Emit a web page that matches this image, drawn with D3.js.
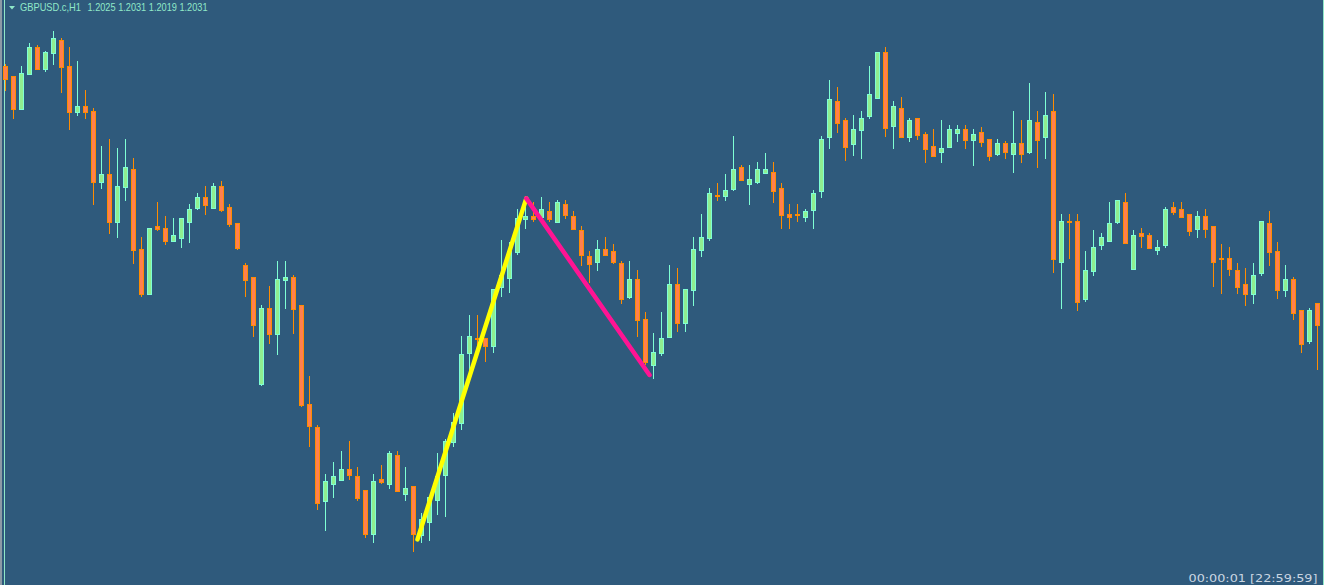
<!DOCTYPE html>
<html><head><meta charset="utf-8">
<script src="https://cdn.jsdelivr.net/npm/d3@7"></script>
<style>html,body{margin:0;padding:0;background:#2F5A7C;overflow:hidden}svg{display:block}</style>
</head><body>
<svg id="chart" width="1324" height="585"></svg>
<script>
const opens=[1.2167,1.2162,1.21455,1.2163,1.21765,1.21655,1.21735,1.2180,1.2167,1.2144,1.2147,1.21445,1.2109,1.2113,1.2089,1.21065,1.21155,1.20755,1.2053,1.2087,1.2086,1.20795,1.2081,1.2089,1.2096,1.21015,1.2096,1.2107,1.20965,1.20885,1.20675,1.20615,1.2008,1.2046,1.2033,1.2060,1.20615,1.20475,1.1998,1.19865,1.19495,1.1958,1.1960,1.19655,1.1962,1.1955,1.1933,1.19605,1.1958,1.19725,1.1953,1.1957,1.19325,1.1939,1.1950,1.19625,1.1979,1.19885,1.20235,1.2031,1.2031,1.2027,1.20565,1.2061,1.2074,1.20905,1.2092,1.20915,1.20945,1.2089,1.2098,1.2092,1.2085,1.2072,1.2069,1.20755,1.20745,1.20685,1.20515,1.20605,1.20405,1.20175,1.20235,1.20315,1.2058,1.20385,1.2055,1.2075,1.2081,1.21025,1.2102,1.21055,1.21165,1.2108,1.2109,1.21135,1.2114,1.2106,1.2093,1.2093,1.20915,1.2095,1.21045,1.21315,1.21495,1.2140,1.2128,1.2135,1.2142,1.2151,1.2174,1.2137,1.2146,1.21315,1.2141,1.2133,1.2127,1.2124,1.21265,1.21335,1.21355,1.2130,1.2134,1.21305,1.2123,1.21285,1.2123,1.21285,1.2124,1.2139,1.21315,1.21445,1.2069,1.20895,1.20895,1.20505,1.20645,1.20775,1.20795,1.2089,1.2099,1.20655,1.20835,1.20825,1.2075,1.20775,1.20965,1.20955,1.2093,1.20855,1.2092,1.2087,1.2071,1.2071,1.2065,1.2058,1.2053,1.20635,1.20885,1.20745,1.2055,1.20605,1.2045,1.20295,1.20485];
const highs=[1.2168,1.2162,1.2167,1.21785,1.21775,1.21745,1.21845,1.2181,1.21765,1.21695,1.2155,1.2146,1.2127,1.21305,1.2126,1.21305,1.2121,1.20815,1.2086,1.2099,1.2092,1.2091,1.2091,1.2098,1.21035,1.2107,1.21085,1.21095,1.2098,1.20885,1.20685,1.20615,1.20475,1.2057,1.20695,1.20695,1.20625,1.20475,1.2012,1.19875,1.1963,1.1969,1.19745,1.19795,1.19665,1.1955,1.1963,1.19675,1.19745,1.19745,1.19665,1.1957,1.19435,1.19515,1.19735,1.19805,1.19935,1.2032,1.20425,1.20425,1.2031,1.20555,1.2080,1.2079,1.20955,1.2100,1.2099,1.21015,1.2099,1.2100,1.2100,1.20945,1.2087,1.20745,1.2080,1.20815,1.2078,1.20695,1.20695,1.2065,1.2044,1.20335,1.2044,1.20675,1.2066,1.20555,1.20815,1.2093,1.2106,1.21085,1.2113,1.2132,1.21175,1.21175,1.2119,1.21235,1.2119,1.21085,1.2098,1.2098,1.20955,1.2105,1.2132,1.2160,1.21565,1.2141,1.21425,1.21445,1.2167,1.2174,1.21765,1.21495,1.21515,1.2141,1.2141,1.2134,1.21355,1.2140,1.21375,1.21375,1.21375,1.21355,1.21365,1.21305,1.21305,1.21295,1.21445,1.2140,1.21585,1.21445,1.2154,1.2153,1.2093,1.2093,1.2093,1.20745,1.2085,1.20835,1.2099,1.2100,1.21035,1.2085,1.2086,1.20835,1.2080,1.20965,1.2099,1.2099,1.2093,1.20945,1.20955,1.2087,1.2078,1.20765,1.20685,1.2066,1.20685,1.20895,1.20945,1.2079,1.20675,1.20615,1.2045,1.2046,1.20485];
const lows=[1.21545,1.21405,1.21455,1.2163,1.21655,1.2164,1.21675,1.21535,1.2135,1.2142,1.21405,1.20975,1.21055,1.2083,1.2081,1.20995,1.2068,1.20515,1.2053,1.20845,1.20775,1.20795,1.2076,1.20785,1.2095,1.20925,1.2096,1.2094,1.20865,1.2075,1.20515,1.20315,1.2007,1.2028,1.20225,1.20455,1.2033,1.19965,1.19765,1.1945,1.19345,1.1951,1.1960,1.1960,1.19495,1.1931,1.19285,1.1958,1.19555,1.19545,1.19495,1.1924,1.19285,1.19295,1.19425,1.19415,1.19765,1.1985,1.2014,1.20275,1.2019,1.20235,1.20515,1.20535,1.20725,1.20855,1.2089,1.20915,1.2089,1.2089,1.20905,1.20855,1.2067,1.20585,1.20645,1.20725,1.2068,1.2048,1.20505,1.20315,1.20175,1.20105,1.2022,1.20315,1.2034,1.2034,1.2047,1.20715,1.20795,1.20995,1.20995,1.21045,1.2110,1.20975,1.2108,1.21135,1.20985,1.20855,1.20855,1.2089,1.2089,1.20855,1.2101,1.21255,1.21335,1.21195,1.2122,1.21205,1.21405,1.2151,1.21315,1.21255,1.21315,1.2129,1.2130,1.21185,1.2122,1.21185,1.21265,1.2129,1.21255,1.2117,1.21265,1.21195,1.2122,1.21205,1.21135,1.21185,1.2123,1.2116,1.21205,1.20635,1.20455,1.20705,1.20445,1.2049,1.2062,1.2075,1.20795,1.2088,1.20785,1.20655,1.2076,1.2076,1.20725,1.2076,1.20925,1.20915,1.2082,1.2081,1.2081,1.20565,1.2053,1.2062,1.2053,1.2047,1.2048,1.2062,1.2067,1.20505,1.20515,1.2040,1.20235,1.2028,1.2015];
const closes=[1.21605,1.21455,1.21635,1.21765,1.21655,1.2174,1.2181,1.21665,1.2144,1.2147,1.2144,1.2109,1.2113,1.2089,1.2107,1.21165,1.2075,1.2053,1.2086,1.20855,1.20795,1.20825,1.2091,1.20955,1.21015,1.20975,1.2107,1.2095,1.2088,1.2076,1.2060,1.20375,1.2046,1.2033,1.20605,1.20615,1.20455,1.19975,1.1987,1.19485,1.19595,1.1962,1.19655,1.19625,1.1951,1.1933,1.19595,1.1959,1.19735,1.19545,1.1956,1.1933,1.19405,1.19515,1.1962,1.19795,1.1989,1.2023,1.2032,1.20305,1.2027,1.20555,1.20625,1.20745,1.2091,1.2092,1.20905,1.20955,1.20905,1.2099,1.20925,1.20855,1.20725,1.2068,1.20755,1.20725,1.2069,1.20505,1.20605,1.2040,1.2019,1.2024,1.2031,1.2058,1.20385,1.20555,1.20755,1.20815,1.21035,1.2102,1.2105,1.21155,1.2110,1.21105,1.21155,1.21155,1.21045,1.20925,1.20915,1.20925,1.20945,1.21035,1.21305,1.21505,1.21385,1.21265,1.21355,1.2141,1.2153,1.2174,1.2136,1.2147,1.21315,1.2140,1.21325,1.21255,1.2122,1.2126,1.21355,1.21355,1.2130,1.2133,1.2129,1.2122,1.21285,1.2124,1.21285,1.2123,1.2140,1.2130,1.21425,1.20705,1.20895,1.2089,1.2049,1.2065,1.20765,1.20815,1.20885,1.2100,1.20785,1.20825,1.2082,1.2076,1.20765,1.20955,1.2094,1.20915,1.20845,1.2092,1.20855,1.2069,1.20705,1.20655,1.20565,1.2053,1.20625,1.20895,1.2074,1.2055,1.20605,1.20435,1.2028,1.2045,1.20375];

// zigzag legs: [bar index, price]
const upLegIndex=[51.5,65.1];
const upLegPrice=[1.19303,1.21008];
const downLegIndex=[65.1,80.5];
const downLegPrice=[1.21008,1.20125];

const symbolLabel="GBPUSD.c,H1";
const ohlcLabel="1.2025 1.2031 1.2019 1.2031";
const timerLabel="00:00:01 [22:59:59]";

const W=1324,H=585;
const svg=d3.select("#chart");
const bars=opens.map((o,i)=>({i,o,h:highs[i],l:lows[i],c:closes[i]}));

const x=d3.scaleLinear().domain([0,bars.length-1]).range([5.5,5.5+8*(bars.length-1)]);
const y=d3.scaleLinear().domain([1.19075,1.22]).range([H,0]);

svg.append("rect").attr("width",W).attr("height",H).attr("fill","#2F5A7C");

// frame lines
svg.append("rect").attr("x",0).attr("y",0).attr("width",2).attr("height",H).attr("fill","#8C9AA6");
svg.append("line").attr("x1",4.5).attr("x2",4.5).attr("y1",0).attr("y2",H).attr("stroke","#8FE8C8").attr("stroke-width",1);
svg.append("line").attr("x1",1323.5).attr("x2",1323.5).attr("y1",0).attr("y2",H).attr("stroke","#8FE8C8").attr("stroke-width",1);

const bullWick="#7FFFD4", bullBody="#90EE90", bearWick="#FF8C00", bearBody="#FF7F50";

const g=svg.append("g");
const cand=g.selectAll("g.c").data(bars).join("g").attr("class","c");
cand.append("line")
  .attr("x1",d=>x(d.i)).attr("x2",d=>x(d.i))
  .attr("y1",d=>Math.round(y(d.h))).attr("y2",d=>Math.round(y(d.l)))
  .attr("stroke",d=>d.c>d.o?bullWick:bearWick).attr("stroke-width",1);
cand.append("rect")
  .attr("x",d=>x(d.i)-2).attr("width",4)
  .attr("y",d=>Math.round(y(Math.max(d.o,d.c)))+0.5)
  .attr("height",d=>Math.max(0,Math.round(y(Math.min(d.o,d.c)))-Math.round(y(Math.max(d.o,d.c)))))
  .attr("fill",d=>d.c>d.o?bullBody:bearBody)
  .attr("stroke",d=>d.c>d.o?bullWick:bearWick).attr("stroke-width",1);

// zigzag legs
const lineGen=d3.line().x(d=>x(d[0])).y(d=>y(d[1]));
svg.append("path").datum(upLegIndex.map((v,i)=>[v,upLegPrice[i]]))
  .attr("d",lineGen).attr("fill","none").attr("stroke","#FFFF00").attr("stroke-width",4.5).attr("stroke-linecap","round");
svg.append("path").datum(downLegIndex.map((v,i)=>[v,downLegPrice[i]]))
  .attr("d",lineGen).attr("fill","none").attr("stroke","#FF1493").attr("stroke-width",4.5).attr("stroke-linecap","round");

// header
svg.append("path").attr("d","M9,6 L15,6 L12,9.5 Z").attr("fill","#8FE8C8");
svg.append("text").attr("x",20).attr("y",11).text(symbolLabel)
  .attr("font-family","Liberation Sans, Arial, sans-serif").attr("font-size",10.5)
  .attr("fill","#8FE8C8").attr("textLength",61).attr("lengthAdjust","spacingAndGlyphs");
svg.append("text").attr("x",87.5).attr("y",11).text(ohlcLabel)
  .attr("font-family","Liberation Sans, Arial, sans-serif").attr("font-size",10.5)
  .attr("fill","#8FE8C8").attr("textLength",120).attr("lengthAdjust","spacingAndGlyphs");

// timer
svg.append("text").attr("x",1188.5).attr("y",582).text(timerLabel)
  .attr("font-family","DejaVu Sans, Verdana, sans-serif").attr("font-size",10.5)
  .attr("fill","#CAD6E2").attr("textLength",129).attr("lengthAdjust","spacingAndGlyphs");
</script>
</body></html>
